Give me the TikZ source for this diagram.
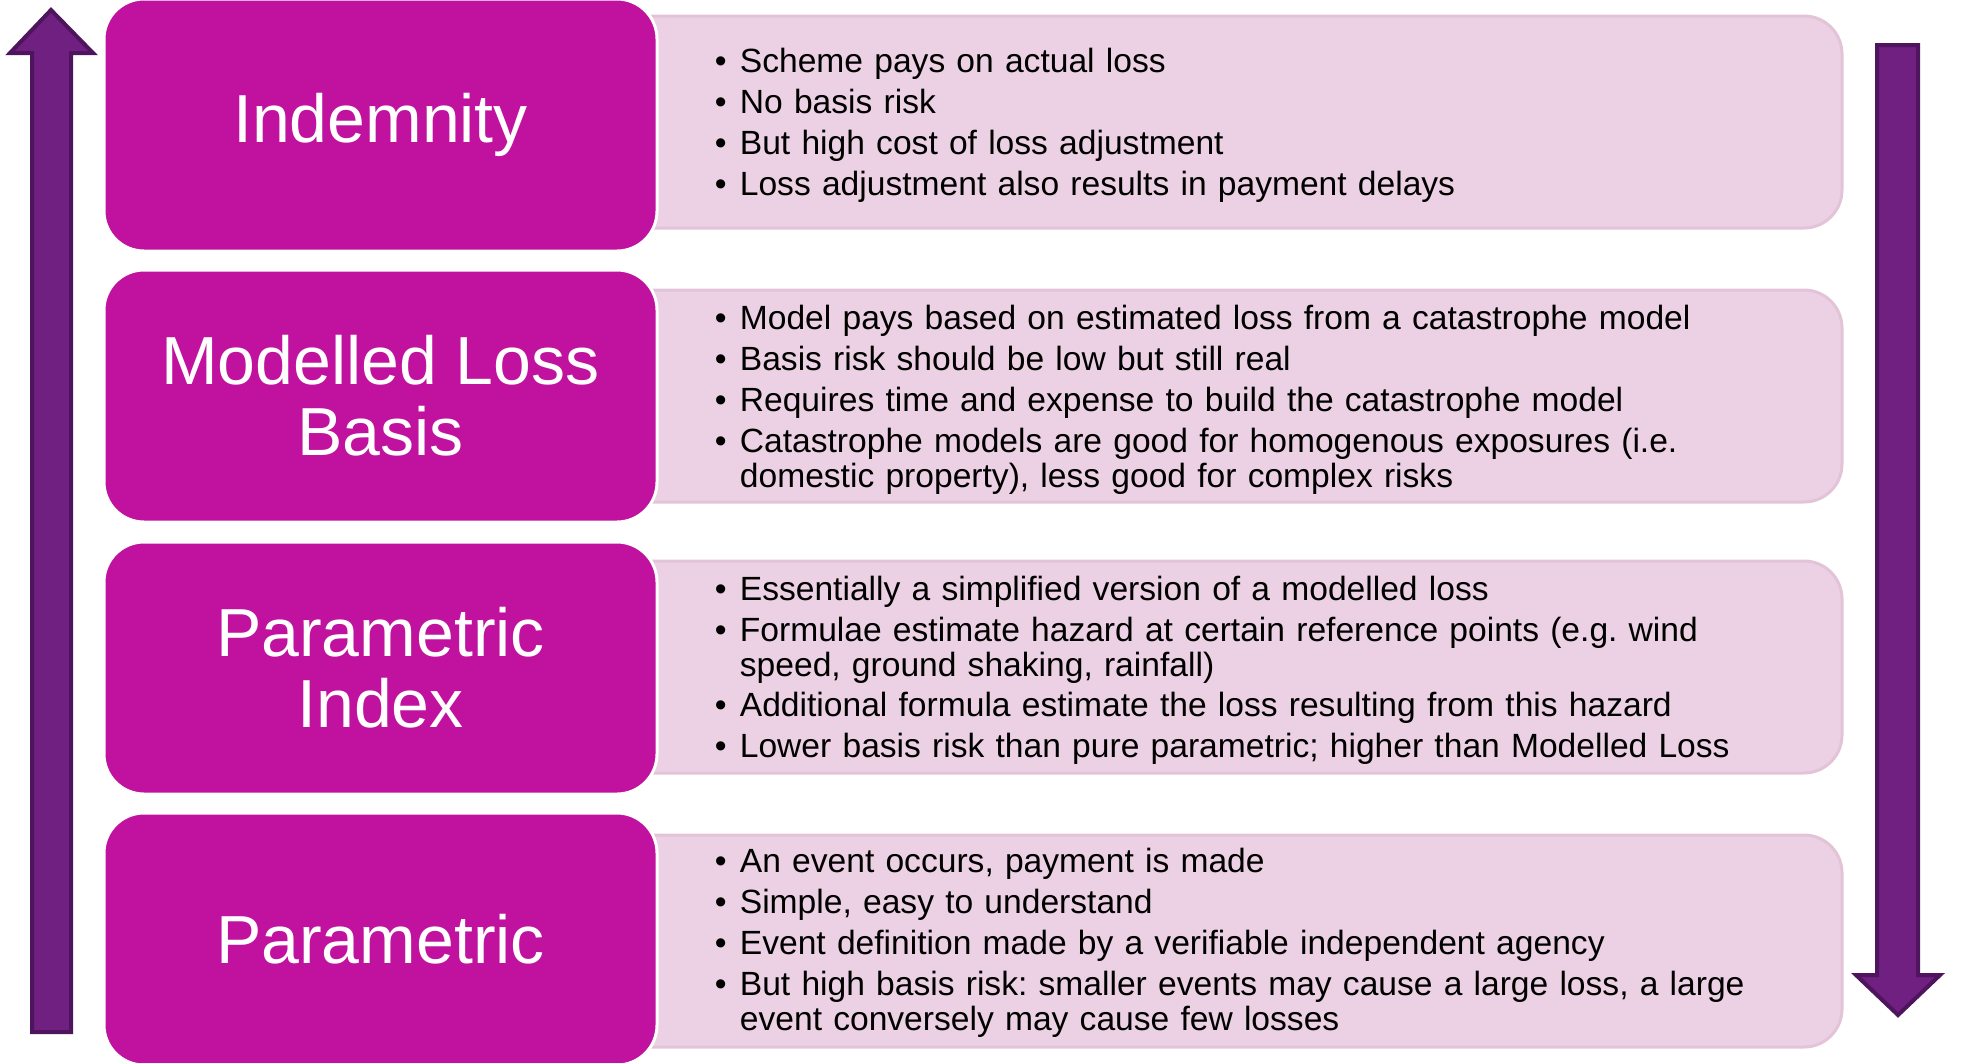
\documentclass[tikz,border=0pt]{standalone}
\usepackage{fontspec}
\setmainfont{Liberation Sans}
\usetikzlibrary{positioning}
\definecolor{levelmagenta}{RGB}{192,18,158}
\definecolor{infopink}{RGB}{235,209,227}
\definecolor{infoedge}{RGB}{227,195,216}
\definecolor{arrowfill}{RGB}{111,32,128}
\definecolor{arrowedge}{RGB}{78,20,94}
\frenchspacing
% one bullet point, wrapped lines hang under the text
\newcommand\itm[1]{\par\noindent\makebox[12.5pt][l]{\textbullet}\parbox[t]{520pt}{#1}}

\begin{document}
\begin{tikzpicture}[x=0.5pt, y=-0.5pt, line join=miter,
  levelbox/.style={draw=white, line width=1.5pt, fill=levelmagenta, rounded corners=20pt,
    minimum width=276.5pt, minimum height=126pt, text=white, align=center,
    font=\fontsize{34}{35.5}\selectfont},
  infobox/.style={draw=infoedge, line width=1.5pt, fill=infopink, rounded corners=19pt,
    minimum width=621pt, minimum height=106pt},
  bulletlist/.style={anchor=west, inner sep=0pt, text width=540pt, align=left,
    font=\fontsize{16.8}{17.5}\selectfont\setlength\parskip{3pt},
    execute at begin node=\vspace*{-\parskip}},
  bigarrow/.style={draw=arrowedge, line width=2pt, fill=arrowfill}]
  \useasboundingbox (0,0) rectangle (1977,1062);

  % arrows at the sides
  \draw[bigarrow] (32,1032) -- (32,53) -- (10,53) -- (51,10) -- (93,53) -- (71,53) -- (71,1032) -- cycle;
  \draw[bigarrow] (1877,45) -- (1877,975) -- (1856,975) -- (1898,1015) -- (1940,975) -- (1918,975) -- (1918,45) -- cycle;

  % pink panels first, the magenta boxes sit on top
  \node[infobox] (indemnity-info) at (1221,122) {};
  \node[infobox] (modelled-info) at (1221,396) {};
  \node[infobox] (index-info) at (1221,667) {};
  \node[infobox] (parametric-info) at (1221,941) {};

  \node[levelbox] (indemnity) at (380.5,125) {Indemnity};
  \node[levelbox] (modelled) at (380.5,396) {Modelled Loss\\Basis};
  \node[levelbox] (index) at (380.5,668) {Parametric\\Index};
  \node[levelbox] (parametric) at (380.5,939) {Parametric};

  \node[bulletlist] (indemnity-text) at ([xshift=58pt,yshift=1pt]indemnity-info.west) {%
    \itm{Scheme pays on actual loss}
    \itm{No basis risk}
    \itm{But high cost of loss adjustment}
    \itm{Loss adjustment also results in payment delays}};
  \node[bulletlist] (modelled-text) at ([xshift=58pt,yshift=1pt]modelled-info.west) {%
    \itm{Model pays based on estimated loss from a catastrophe model}
    \itm{Basis risk should be low but still real}
    \itm{Requires time and expense to build the catastrophe model}
    \itm{Catastrophe models are good for homogenous exposures (i.e.\\ domestic property), less good for complex risks}};
  \node[bulletlist] (index-text) at ([xshift=58pt,yshift=1pt]index-info.west) {%
    \itm{Essentially a simplified version of a modelled loss}
    \itm{Formulae estimate hazard at certain reference points (e.g. wind\\ speed, ground shaking, rainfall)}
    \itm{Additional formula estimate the loss resulting from this hazard}
    \itm{Lower basis risk than pure parametric; higher than Modelled Loss}};
  \node[bulletlist] (parametric-text) at ([xshift=58pt,yshift=2pt]parametric-info.west) {%
    \itm{An event occurs, payment is made}
    \itm{Simple, easy to understand}
    \itm{Event definition made by a verifiable independent agency}
    \itm{But high basis risk: smaller events may cause a large loss, a large\\ event conversely may cause few losses}};
\end{tikzpicture}
\end{document}
